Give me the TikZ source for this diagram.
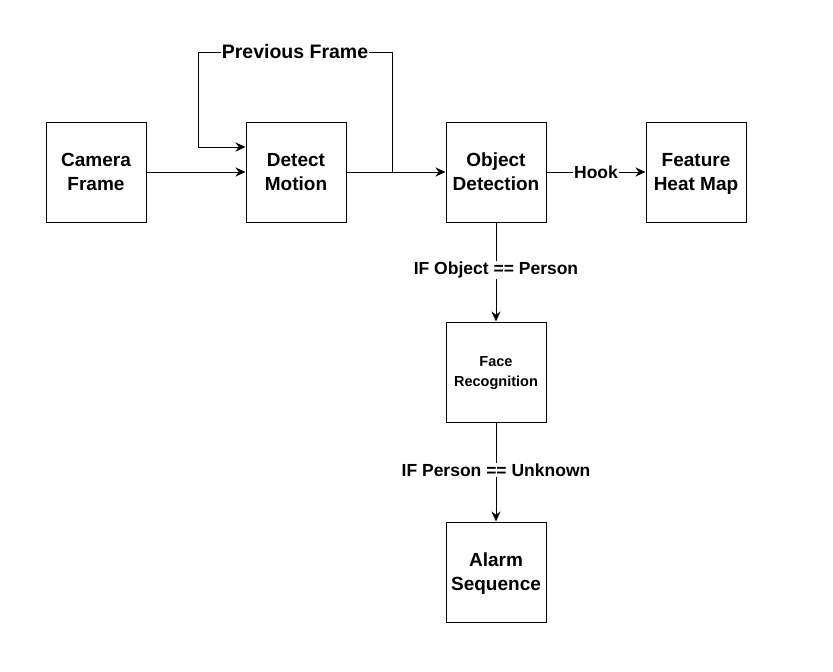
\documentclass[tikz,border=0pt]{standalone}
\usepackage{fontspec}
\setmainfont{Liberation Sans}
\usetikzlibrary{arrows.meta}

\tikzset{
  stage/.style={draw, line width=1pt, minimum width=100pt, minimum height=100pt,
    align=center, font=\fontsize{19}{24}\selectfont\bfseries, inner sep=0pt,
    text depth=0pt},
  smallstage/.style={stage, font=\fontsize{14.5}{20}\selectfont\bfseries},
  flow/.style={line width=1pt, -{Stealth[length=10pt,width=9pt]}},
  cond/.style={fill=white, inner sep=1pt, font=\fontsize{17.5}{20}\selectfont\bfseries}
}

\begin{document}
\begin{tikzpicture}[x=1pt,y=-1pt]
    \useasboundingbox (0,0) rectangle (833,672);
    \node[stage] (camera) at (96,172) {Camera\\Frame};
    \node[stage] (detect) at (296,172) {Detect\\Motion};
    \node[stage] (object) at (496,172) {Object\\Detection};
    \node[stage] (heatmap) at (696,172) {Feature\\Heat Map};
    \node[smallstage] (face) at (496,372) {Face\\Recognition};
    \node[stage] (alarm) at (496,572) {Alarm\\Sequence};
    \coordinate (split) at (392,172);
    \coordinate (loopR) at (392,52);
    \coordinate (loopL) at (198,52);
    \draw[flow] (camera) -- (detect);
    \draw[flow] (detect) -- (object);
    \draw[flow] (split) -- (loopR) -- node[cond, font=\fontsize{19.5}{22}\selectfont\bfseries]{Previous Frame} (loopL)
      |- ([yshift=25pt]detect.west);
    \draw[flow] (object) -- node[cond]{Hook} (heatmap);
    \draw[flow] (object) -- node[cond, pos=0.48]{IF Object == Person} (face);
    \draw[flow] (face) -- node[cond, pos=0.48]{IF Person == Unknown} (alarm);
\end{tikzpicture}
\end{document}
